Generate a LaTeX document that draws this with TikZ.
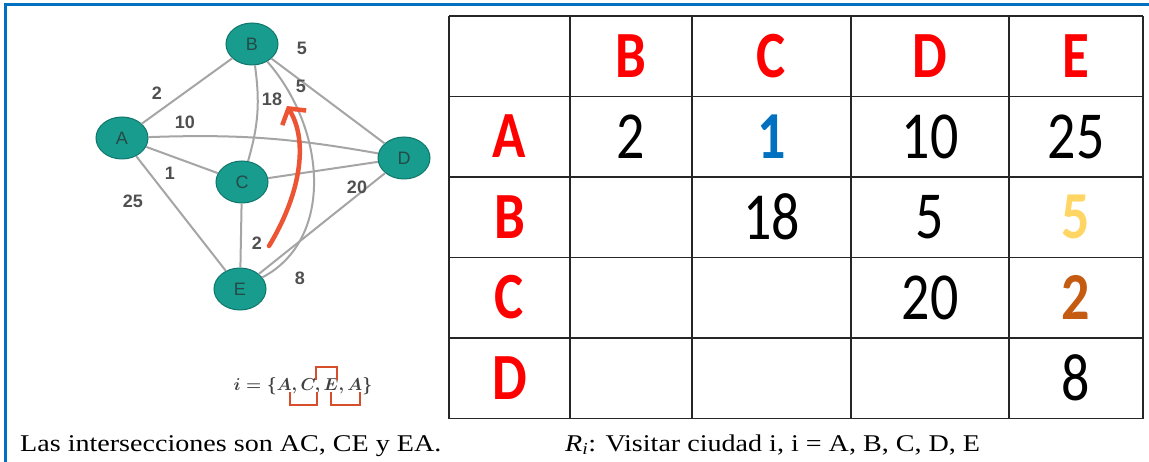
\documentclass[tikz,border=0pt]{standalone}
\usepackage{fontspec}
\setmainfont{Liberation Serif}
\newfontfamily\calib{Carlito}
\newfontfamily\arialf{Liberation Sans}
\usetikzlibrary{shapes.geometric,arrows.meta}
\definecolor{framebl}{RGB}{0,112,192}
\definecolor{tealfill}{RGB}{24,156,142}
\definecolor{tealdraw}{RGB}{16,118,108}
\definecolor{tealtext}{RGB}{38,74,72}
\definecolor{edgegray}{RGB}{165,165,165}
\definecolor{labgray}{RGB}{80,80,80}
\definecolor{arrred}{RGB}{236,84,52}
\definecolor{brkred}{RGB}{214,78,44}
\definecolor{hdrred}{RGB}{255,0,0}
\definecolor{numblue}{RGB}{0,112,192}
\definecolor{numgold}{RGB}{255,214,100}
\definecolor{numbrown}{RGB}{197,90,17}
\newcommand\tallt[1]{\scalebox{1}[1.2]{#1}}
\newcommand\widet[1]{\scalebox{1.17}[1]{#1}}
\tikzset{
  city/.style={ellipse,draw=tealdraw,line width=1pt,fill=tealfill,minimum width=52pt,minimum height=42pt,inner sep=0pt,
    text=tealtext,font=\arialf\fontsize{18}{18}\selectfont},
  edge/.style={draw=edgegray,line width=2pt},
  elabel/.style={text=labgray,font=\arialf\bfseries\fontsize{18}{18}\selectfont,inner sep=0pt},
  redarrow/.style={draw=arrred,line width=4.5pt,line cap=round,-{Straight Barb[length=11pt,width=28pt,line width=4.5pt]}},
  bracket/.style={draw=brkred,line width=2.2pt},
  tabline/.style={draw=black!85,line width=1.8pt},
  hdr/.style={text=hdrred,font=\calib\bfseries\fontsize{55}{55}\selectfont,inner sep=0pt},
  num/.style={text=black,font=\calib\fontsize{56}{56}\selectfont,inner sep=0pt},
  numb/.style={font=\calib\bfseries\fontsize{56}{56}\selectfont,inner sep=0pt},
  caption/.style={font=\fontsize{24}{24}\selectfont,inner sep=0pt,anchor=base west}
}
\begin{document}
\begin{tikzpicture}[x=1pt,y=-1pt]
\useasboundingbox (0,0) rectangle (1149,462);
\fill[white] (0,0) rectangle (1149,462);
% blue frame corner
\draw[framebl,line width=3pt] (5,462) -- (5,5) -- (1149,5);

% ---- graph ----
\node[city] (A) at (122,138) {A};
\node[city] (B) at (252,44) {B};
\node[city] (C) at (242,182) {C};
\node[city] (D) at (404,158) {D};
\node[city] (E) at (240,289) {E};

\draw[edge] (A) -- (B);
\draw[edge] (A) to[bend left=6] (D);
\draw[edge] (A) -- (C);
\draw[edge] (A) -- (E);
\draw[edge] (B) to[bend left=12] (C);
\draw[edge] (B) .. controls (327,130) and (334,240) .. (E);
\draw[edge] (B) -- (D);
\draw[edge] (C) -- (D);
\draw[edge] (C) -- (E);
\draw[edge] (E) -- (D);

\node[elabel] (lAB) at (157,93) {2};
\node[elabel] (lAD) at (185,122) {10};
\node[elabel] (lAC) at (170,173) {1};
\node[elabel] (lAE) at (133,201) {25};
\node[elabel] (lBD) at (302,48) {5};
\node[elabel] (lBE) at (301,86) {5};
\node[elabel] (lBC) at (272,99) {18};
\node[elabel] (lCD) at (357,187) {20};
\node[elabel] (lCE) at (257,243) {2};
\node[elabel] (lED) at (300,278) {8};

\coordinate (arS) at (269,246);
\coordinate (arT) at (287,106);
\draw[redarrow] (arS) .. controls (300,195) and (309,142) .. (arT);

% ---- route formula ----
\node[text=black!75,font=\fontsize{17}{17}\selectfont\boldmath,inner sep=0pt] (route) at (303,386) {$i=\{A,C,E,A\}$};
\draw[bracket] (290,392) -- (290,405) -- (317,405) -- (317,392);
\draw[bracket] (316,380) -- (316,367) -- (337,367) -- (337,380);
\draw[bracket] (331,392) -- (331,405) -- (360,405) -- (360,392);

% ---- table ----
\foreach \x in {449,570,692,851,1009,1143} \draw[tabline] (\x,16) -- (\x,418.5);
\foreach \y in {16,96.5,177,257.5,338,418.5} \draw[tabline] (449,\y) -- (1143,\y);

\node[hdr] (hB) at (631,56) {\tallt{B}};
\node[hdr] (hC) at (771.5,56) {\tallt{C}};
\node[hdr] (hD) at (930,56) {\tallt{D}};
\node[hdr] (hE) at (1076,56) {\tallt{E}};
\node[hdr] (rA) at (509.5,136.5) {\tallt{A}};
\node[hdr] (rB) at (509.5,217) {\tallt{B}};
\node[hdr] (rC) at (509.5,297.5) {\tallt{C}};
\node[hdr] (rD) at (509.5,378) {\tallt{D}};

\node[num] (AB) at (631,136.5) {\tallt{2}};
\node[numb,text=numblue] (AC) at (771.5,136.5) {\tallt{1}};
\node[num] (AD) at (930,136.5) {\tallt{10}};
\node[num] (AE) at (1076,136.5) {\tallt{25}};
\node[num] (BC) at (771.5,217) {\tallt{18}};
\node[num] (BD) at (930,217) {\tallt{5}};
\node[numb,text=numgold] (BE) at (1076,217) {\tallt{5}};
\node[num] (CD) at (930,297.5) {\tallt{20}};
\node[numb,text=numbrown] (CE) at (1076,297.5) {\tallt{2}};
\node[num] (DE) at (1076,378) {\tallt{8}};

% ---- captions ----
\node[caption] (cap1) at (20,451) {\widet{Las intersecciones son AC, CE y EA.}};
\node[caption] (cap2) at (565,451) {\widet{\textit{R}\textsubscript{\textit{i}}: Visitar ciudad i, i = A, B, C, D, E}};
\end{tikzpicture}
\end{document}
